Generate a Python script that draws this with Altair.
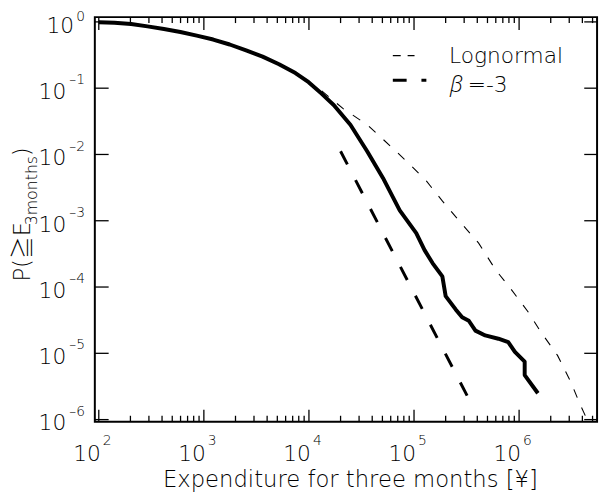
import altair as alt
import pandas as pd

# ---- data ----
E_obs = [100, 141, 203, 291, 417, 598, 856, 1227, 1761, 2524, 3622, 5192, 7438, 9930,
         13250, 17200, 24800, 35800, 50600, 73100,
         105000, 126000, 150000, 186000, 200000, 249000, 287000, 332000, 384000,
         476000, 635000, 788000, 912000, 1130000, 1130000, 1510000]
P_obs = [0.99, 0.97, 0.93, 0.857, 0.782, 0.705, 0.621, 0.542, 0.456, 0.371, 0.299, 0.230, 0.169, 0.123,
         0.0822, 0.0558, 0.0281, 0.0112, 0.00443, 0.00143,
         6.5e-4, 3.6e-4, 2.3e-4, 1.45e-4, 7.3e-5, 4.6e-5, 3.5e-5, 3.1e-5, 2.2e-5,
         1.86e-5, 1.66e-5, 1.48e-5, 1.05e-5, 7.5e-6, 4.7e-6, 2.5e-6]

E_ln = [100, 141, 203, 291, 417, 598, 856, 1227, 1761, 2524, 3622, 5192, 7438, 9930,
        13000, 21300, 35800, 62800, 90800, 131000, 185000,
        267000, 412000, 596000, 841000, 1220000, 1610000, 2320000, 3080000, 3820000, 4350000]
P_ln = [0.99, 0.97, 0.93, 0.857, 0.782, 0.705, 0.621, 0.542, 0.456, 0.371, 0.299, 0.230, 0.169, 0.125,
        0.0933, 0.0487, 0.0281, 0.0124, 0.00715, 0.00399, 0.00201,
        0.00101, 4.6e-4, 1.83e-4, 9.2e-5, 4.2e-5, 2.1e-5, 9.3e-6, 3.8e-6, 1.67e-6, 1.07e-6]

E_pl = [20000, 360000]
P_pl = [0.0112, 1.6e-6]

x_major = [1e2, 1e3, 1e4, 1e5, 1e6]
x_exp = ["2", "3", "4", "5", "6"]
y_major = [1, 1e-1, 1e-2, 1e-3, 1e-4, 1e-5, 1e-6]
y_exp = ["0", "–1", "–2", "–3", "–4", "–5", "–6"]
X_DOMAIN = [91.7, 5.52e6]
Y_DOMAIN = [9.3e-7, 1.18]
x_minor = [m * 10 ** k for k in range(1, 7) for m in range(2, 10)
           if X_DOMAIN[0] < m * 10 ** k < X_DOMAIN[1]]

legend_labels = ["Lognormal", "β", "=-3"]
x_title = "Expenditure for three months [¥]"
y_title_parts = ["P(≧E", "3months", ")"]

W, H = 509, 410
FONT = "DejaVu Sans, Noto Sans CJK JP"
FW = 200

xs = alt.Scale(type="log", domain=X_DOMAIN, nice=False)
ys = alt.Scale(type="log", domain=Y_DOMAIN, nice=False)

obs = pd.DataFrame({"E": E_obs, "P": P_obs, "i": range(len(E_obs))})
ln = pd.DataFrame({"E": E_ln, "P": P_ln, "i": range(len(E_ln))})
pl = pd.DataFrame({"E": E_pl, "P": P_pl, "i": range(len(E_pl))})


def curve(df, **kw):
    return alt.Chart(df).mark_line(color="black", clip=True, **kw).encode(
        x=alt.X("E:Q", scale=xs, axis=None),
        y=alt.Y("P:Q", scale=ys, axis=None),
        order="i:Q",
    )


l_ln = curve(ln, strokeWidth=1.1, strokeDash=[9, 11])
l_pl = curve(pl, strokeWidth=3, strokeDash=[15, 18], strokeCap="butt")
l_obs = curve(obs, strokeWidth=4, strokeJoin="round", strokeCap="butt")

xmaj = pd.DataFrame({"v": x_major, "e": x_exp})
xmin = pd.DataFrame({"v": x_minor})
ymaj = pd.DataFrame({"v": y_major, "e": y_exp})


def vticks(df, a, b):
    return alt.Chart(df).mark_rule(color="black", strokeWidth=1.3).encode(
        x=alt.X("v:Q", scale=xs, axis=None), y=alt.value(a), y2=alt.value(b))


def hticks(df, a, b):
    return alt.Chart(df).mark_rule(color="black", strokeWidth=1.3).encode(
        y=alt.Y("v:Q", scale=ys, axis=None), x=alt.value(a), x2=alt.value(b))


ticks = [
    vticks(xmaj, H, H - 12), vticks(xmaj, 0, 13),
    vticks(xmin, H, H - 6), vticks(xmin, 0, 6),
    hticks(ymaj, 0, 14), hticks(ymaj, W - 13, W),
]

xl10 = alt.Chart(xmaj).mark_text(font=FONT, fontWeight=FW, fontSize=22, align="right", baseline="alphabetic", dx=2).encode(
    x=alt.X("v:Q", scale=xs, axis=None), y=alt.value(450), text=alt.value("10"))
xlexp = alt.Chart(xmaj).mark_text(font=FONT, fontWeight=FW, fontSize=14, align="left", baseline="alphabetic", dx=4).encode(
    x=alt.X("v:Q", scale=xs, axis=None), y=alt.value(434), text="e:N")

yl10_a = alt.Chart(ymaj).transform_filter("datum.e == '0'").mark_text(
    font=FONT, fontWeight=FW, fontSize=22, align="right", baseline="alphabetic", dy=11).encode(
    x=alt.value(-21), y=alt.Y("v:Q", scale=ys, axis=None), text=alt.value("10"))
yl10_b = alt.Chart(ymaj).transform_filter("datum.e != '0'").mark_text(
    font=FONT, fontWeight=FW, fontSize=22, align="right", baseline="alphabetic", dy=11).encode(
    x=alt.value(-29), y=alt.Y("v:Q", scale=ys, axis=None), text=alt.value("10"))
ylexp_a = alt.Chart(ymaj).transform_filter("datum.e == '0'").mark_text(
    font=FONT, fontWeight=FW, fontSize=14, align="right", baseline="alphabetic", dy=-1).encode(
    x=alt.value(-10), y=alt.Y("v:Q", scale=ys, axis=None), text="e:N")
ylexp_b = alt.Chart(ymaj).transform_filter("datum.e != '0'").mark_text(
    font=FONT, fontWeight=FW, fontSize=14, align="right", baseline="alphabetic", dy=-4).encode(
    x=alt.value(-10), y=alt.Y("v:Q", scale=ys, axis=None), text="e:N")

# legend
leg = pd.DataFrame({"t": legend_labels})
leg_ln_line = alt.Chart(leg.head(1)).mark_rule(color="black", strokeWidth=1.1, strokeDash=[8, 7]).encode(
    x=alt.value(302), x2=alt.value(324), y=alt.value(39))
leg_pl_line = alt.Chart(leg.head(1)).mark_rule(color="black", strokeWidth=3, strokeDash=[14, 15], strokeCap="butt").encode(
    x=alt.value(302), x2=alt.value(336), y=alt.value(64))
leg_t1 = alt.Chart(leg).transform_filter("datum.t == 'Lognormal'").mark_text(
    font=FONT, fontWeight=FW, fontSize=22, align="left", baseline="alphabetic").encode(
    x=alt.value(359), y=alt.value(46), text="t:N")
leg_t2 = alt.Chart(leg).transform_filter("datum.t == 'β'").mark_text(
    font="Open Sans, DejaVu Sans", fontWeight=300, fontSize=22, fontStyle="italic", align="left", baseline="alphabetic").encode(
    x=alt.value(360), y=alt.value(76), text="t:N")
leg_t3 = alt.Chart(leg).transform_filter("datum.t == '=-3'").mark_text(
    font=FONT, fontWeight=FW, fontSize=22, align="left", baseline="alphabetic").encode(
    x=alt.value(378), y=alt.value(76), text="t:N")

# axis titles
tdf = pd.DataFrame({"t": [x_title]})
xt = alt.Chart(tdf).mark_text(font=FONT, fontWeight=FW, fontSize=23, align="center", baseline="alphabetic").encode(
    x=alt.value(259), y=alt.value(476), text="t:N")
ydf = pd.DataFrame({"t": y_title_parts, "k": [0, 1, 2]})
yt1 = alt.Chart(ydf).transform_filter("datum.k == 0").mark_text(
    font=FONT, fontWeight=FW, fontSize=23, angle=270, align="left", baseline="alphabetic").encode(
    x=alt.value(-66), y=alt.value(268), text="t:N")
yt2 = alt.Chart(ydf).transform_filter("datum.k == 1").mark_text(
    font=FONT, fontWeight=FW, fontSize=16, angle=270, align="left", baseline="alphabetic").encode(
    x=alt.value(-59), y=alt.value(211), text="t:N")
yt3 = alt.Chart(ydf).transform_filter("datum.k == 2").mark_text(
    font=FONT, fontWeight=FW, fontSize=23, angle=270, align="left", baseline="alphabetic").encode(
    x=alt.value(-66), y=alt.value(141), text="t:N")

chart = alt.layer(
    l_ln, l_pl, l_obs, *ticks, xl10, xlexp, yl10_a, yl10_b, ylexp_a, ylexp_b,
    leg_ln_line, leg_pl_line, leg_t1, leg_t2, leg_t3, xt, yt1, yt2, yt3,
).properties(
    width=W, height=H,
    autosize=alt.AutoSizeParams(type="none"),
    padding={"left": 88, "top": 6, "right": 5, "bottom": 68},
    background="white",
).configure_view(stroke="black", strokeWidth=2)

chart.save("out.html", embed_options={"renderer": "svg", "actions": False})
